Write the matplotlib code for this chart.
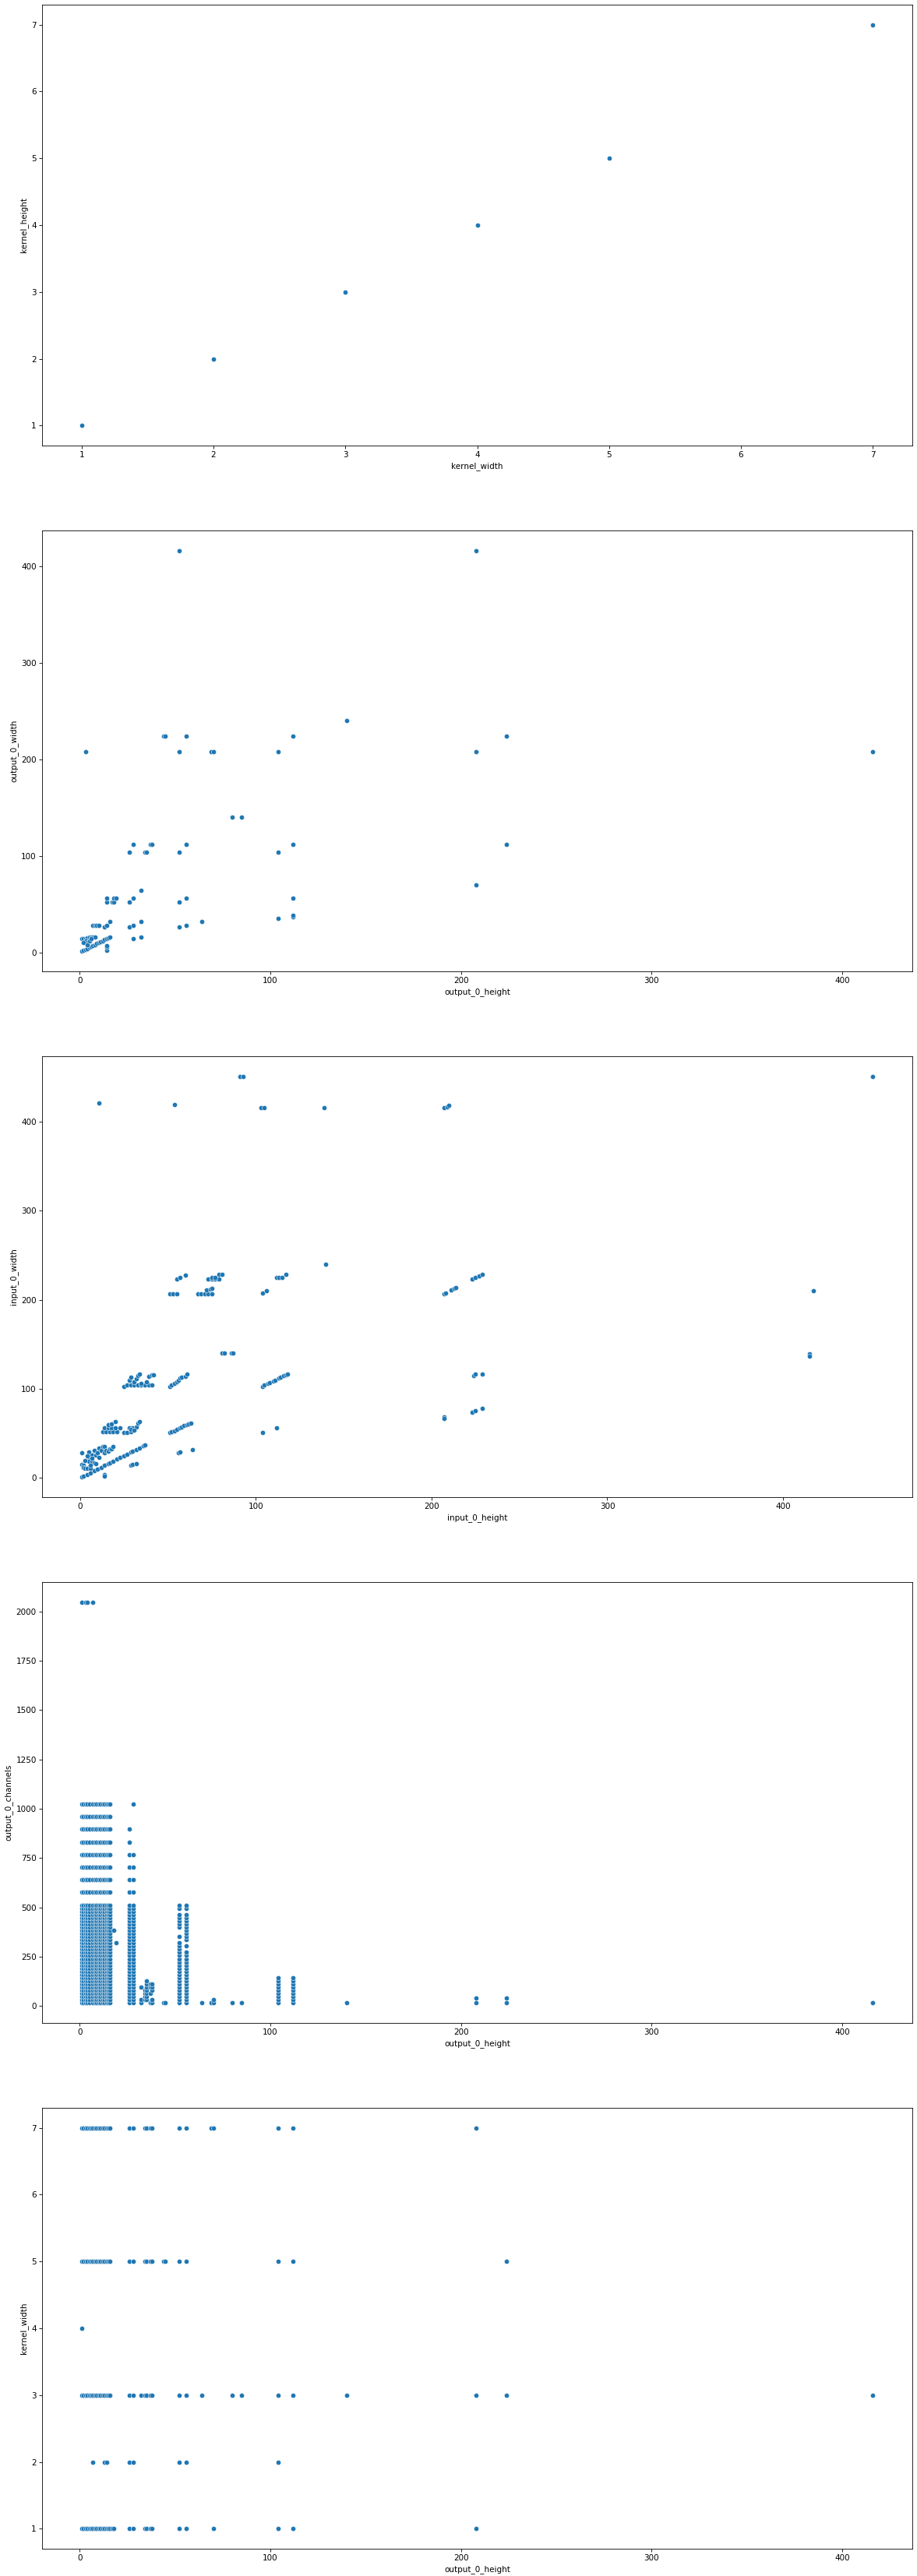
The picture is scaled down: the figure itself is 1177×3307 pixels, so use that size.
import matplotlib
matplotlib.use('Agg')
import matplotlib.pyplot as plt
import seaborn as sns

# plot 1: kernel_width vs kernel_height
kernel_w1 = [1, 2, 3, 4, 5, 7]
kernel_h1 = [1, 2, 3, 4, 5, 7]

# plot 2: output_0_height vs output_0_width
out_h2 = [1, 2, 3, 4, 5, 6, 7, 8, 9, 10, 11, 12, 13, 14, 15, 16,
          1, 2, 3, 4, 5, 6, 7, 8, 3, 4, 5, 6, 2, 4,
          14, 14, 14,
          7, 8, 9, 10, 13, 14, 16, 14, 14, 17, 18, 18, 19,
          26, 28, 32, 26, 28, 32, 28, 32,
          26, 28, 34, 35, 37, 38,
          52, 56, 64, 52, 56, 52, 56, 52, 56, 52, 44, 45, 69, 70, 80, 85,
          104, 104, 104, 112, 112, 112, 112, 112, 140, 3,
          208, 208, 208, 224, 224, 416]
out_w2 = [1, 2, 3, 4, 5, 6, 7, 8, 9, 10, 11, 12, 13, 14, 15, 16,
          14, 14, 14, 15, 16, 16, 16, 16, 12, 10, 12, 14, 10, 8,
          2, 5, 7,
          28, 28, 28, 28, 26, 28, 32, 52, 56, 52, 52, 56, 56,
          26, 28, 32, 52, 56, 64, 14, 16,
          104, 112, 104, 104, 112, 112,
          26, 28, 32, 52, 56, 104, 112, 208, 224, 416, 224, 224, 208, 208, 140, 140,
          35, 104, 208, 37, 38, 56, 112, 224, 240, 208,
          416, 208, 70, 224, 112, 208]

# plot 3: input_0_height vs input_0_width
in_h3 = [1, 2, 4, 6, 8, 10, 12, 14, 16, 17, 19, 21, 23, 25, 27, 29, 30, 32, 34, 36, 37,
         1, 1, 2, 2, 3, 4, 5, 5, 5, 6, 7, 7, 8, 8, 9, 9, 10, 11, 11, 12, 13, 14, 14, 15,
         16, 17, 18, 19, 4, 3, 7, 6,
         14, 14, 29, 30, 32,
         13, 15, 17, 19, 21, 14, 16, 18, 20, 23, 16, 18, 20, 25, 27, 29, 28, 30, 32, 33, 34, 29, 31,
         51, 52, 54, 55, 57, 58, 59, 61, 62, 63, 104, 112, 56, 57, 64,
         25, 27, 29, 31, 33, 35, 37, 39, 41,
         28, 29, 31, 32, 33, 34, 35, 38, 39, 41, 42,
         51, 52, 54, 55, 56, 57, 58, 60, 61,
         104, 105, 107, 108, 110, 111, 113, 114, 116, 117, 118,
         81, 82, 86, 87,
         51, 53, 55, 67, 69, 71, 73, 75, 72, 74, 75, 104, 106,
         55, 57, 60, 73, 75, 77, 79, 75, 77, 79, 81, 112, 113, 115, 117, 140,
         11, 54, 91, 93, 103, 105, 139,
         207, 208, 211, 213, 214, 223, 225, 227, 229, 207, 209, 210,
         224, 225, 229, 207, 207, 223, 225, 229,
         415, 415, 417, 451]
in_w3 = [1, 2, 4, 6, 8, 10, 12, 14, 16, 17, 19, 21, 23, 25, 27, 29, 30, 32, 34, 36, 37,
         28, 15, 14, 12, 11, 11, 29, 23, 19, 11, 26, 19, 31, 17, 16, 26, 28, 34, 23, 31, 35, 35, 28, 31,
         30, 33, 33, 35, 25, 20, 22, 14,
         4, 2, 14, 15, 16,
         52, 52, 52, 52, 52, 56, 56, 56, 56, 56, 60, 61, 63, 51, 51, 52, 56, 56, 57, 62, 63, 55, 54,
         51, 52, 53, 55, 56, 57, 59, 60, 61, 62, 51, 56, 28, 29, 32,
         103, 104, 104, 104, 104, 104, 104, 104, 104,
         110, 113, 108, 111, 115, 117, 106, 108, 114, 116, 116,
         103, 104, 106, 108, 110, 112, 113, 114, 117,
         103, 104, 106, 107, 109, 110, 112, 113, 115, 116, 117,
         140, 140, 140, 140,
         207, 207, 207, 207, 207, 207, 207, 207, 211, 212, 213, 208, 210,
         223, 225, 228, 223, 223, 223, 223, 225, 225, 229, 229, 225, 225, 225, 229, 240,
         421, 419, 451, 451, 416, 416, 416,
         207, 208, 211, 213, 214, 223, 225, 227, 229, 416, 417, 418,
         115, 117, 117, 69, 67, 74, 76, 78,
         139, 137, 210, 451]

# plot 4: output_0_height vs output_0_channels (columns of channel values)
small_h4 = [1, 2, 3, 4, 5, 7, 8, 9, 10, 11, 12, 13, 14, 15, 16]
channels_low = [16, 32, 48, 64, 80, 96, 112, 128, 144, 160, 176, 192, 208, 224, 240, 256,
                272, 288, 304, 320, 336, 352, 368, 384, 400, 416, 432, 448, 464, 480, 496, 512]
channels_high_small = [576, 640, 704, 768, 832, 896, 960, 1024]
channels_high_26 = [576, 640, 704, 768, 832, 896]
channels_high_28 = [576, 640, 704, 768, 1024]
wide_h4 = [1, 3, 4, 7]
wide_ch4 = [2048, 2048, 2048, 2048]
mid_h4 = [18, 19]
mid_ch4 = [384, 320]
channels_52 = [16, 32, 48, 64, 80, 96, 112, 128, 144, 160, 176, 192, 208, 224, 240, 256,
               272, 288, 304, 320, 352, 400, 416, 432, 448, 464, 496, 512]
channels_56 = [16, 32, 48, 64, 80, 96, 112, 128, 144, 160, 176, 192, 208, 224, 240, 256,
               272, 304, 336, 352, 368, 384, 400, 416, 432, 448, 464, 496, 512]
misc_h4 = [32, 32, 32, 34, 34, 34, 34, 35, 35, 35, 35, 35, 35, 35,
           37, 37, 37, 37, 38, 38, 38, 38, 38, 44, 45, 64, 69, 70, 70, 80, 85, 140,
           208, 208, 224, 224, 416]
misc_ch4 = [16, 32, 96, 32, 48, 64, 80, 32, 48, 64, 80, 96, 112, 128,
            16, 64, 96, 112, 16, 32, 80, 96, 112, 16, 16, 16, 16, 16, 32, 16, 16, 16,
            16, 40, 16, 40, 16]
channels_104 = [16, 32, 48, 64, 80, 96, 112, 128, 144]

# plot 5: output_0_height at each kernel_width
kw7_h = [1, 2, 3, 4, 5, 6, 7, 8, 9, 10, 11, 12, 13, 14, 15, 16, 26, 28, 34, 35, 37, 38,
         52, 56, 69, 70, 104, 112, 208]
kw5_h = [1, 2, 3, 4, 5, 6, 7, 8, 9, 10, 11, 12, 13, 14, 15, 16, 26, 28, 34, 35, 37, 38,
         44, 45, 52, 56, 104, 112, 224]
kw4_h = [1]
kw3_h = [1, 2, 3, 4, 5, 6, 7, 8, 9, 10, 11, 12, 13, 14, 15, 16, 26, 28, 32, 34, 35, 37, 38,
         52, 56, 64, 80, 85, 104, 112, 140, 208, 224, 416]
kw2_h = [7, 13, 14, 26, 28, 52, 56, 104]
kw1_h = [1, 2, 3, 4, 5, 6, 7, 8, 9, 10, 11, 12, 13, 14, 15, 16, 17, 18, 26, 28, 34, 35, 37, 38,
         52, 56, 70, 104, 112, 208]

# build plot 4 columns
x4, y4 = [], []
for h in small_h4:
    for c in channels_low + channels_high_small:
        x4.append(h)
        y4.append(c)
for h, extra in [(26, channels_high_26), (28, channels_high_28)]:
    for c in channels_low + extra:
        x4.append(h)
        y4.append(c)
for h, chans in [(52, channels_52), (56, channels_56), (104, channels_104), (112, channels_104)]:
    for c in chans:
        x4.append(h)
        y4.append(c)
x4 += wide_h4 + mid_h4 + misc_h4
y4 += wide_ch4 + mid_ch4 + misc_ch4

x5, y5 = [], []
for k, hs in [(7, kw7_h), (5, kw5_h), (4, kw4_h), (3, kw3_h), (2, kw2_h), (1, kw1_h)]:
    x5 += hs
    y5 += [k] * len(hs)

panels = [
    (kernel_w1, kernel_h1, 'kernel_width', 'kernel_height'),
    (out_h2, out_w2, 'output_0_height', 'output_0_width'),
    (in_h3, in_w3, 'input_0_height', 'input_0_width'),
    (x4, y4, 'output_0_height', 'output_0_channels'),
    (x5, y5, 'output_0_height', 'kernel_width'),
]

W, H = 1177, 3307
fig = plt.figure(figsize=(W / 75, H / 75), dpi=75)
for i, (xs, ys, xl, yl) in enumerate(panels):
    top = 6 + 675 * i
    ax = fig.add_axes([54 / W, 1 - (top + 566) / H, 1117 / W, 566 / H])
    sns.scatterplot(x=xs, y=ys, ax=ax)
    ax.set_xlabel(xl)
    ax.set_ylabel(yl)

fig.savefig('out.png', dpi=75)
